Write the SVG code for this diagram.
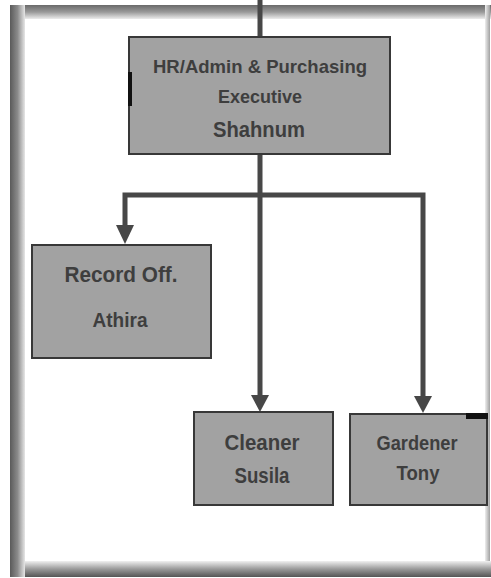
<svg xmlns="http://www.w3.org/2000/svg" width="491" height="578" viewBox="0 0 491 578">
  <defs>
    <style>
      .box { fill: #a2a2a2; stroke: #383838; stroke-width: 2; }
      .lbl { font-family: "Liberation Sans", Arial, sans-serif; font-weight: bold; fill: #3e3e3e; text-anchor: middle; }
      .conn { fill: none; stroke: #474747; stroke-width: 5; }
      .head { fill: #474747; }
    </style>
    <linearGradient id="gL" x1="0" y1="0" x2="1" y2="0">
      <stop offset="0" stop-color="#5a5a5a"/>
      <stop offset="0.5" stop-color="#8a8a8a"/>
      <stop offset="1" stop-color="#e6e6e6"/>
    </linearGradient>
    <linearGradient id="gT" x1="0" y1="0" x2="0" y2="1">
      <stop offset="0" stop-color="#6a6a6a"/>
      <stop offset="0.5" stop-color="#999"/>
      <stop offset="1" stop-color="#ececec"/>
    </linearGradient>
    <linearGradient id="gB" x1="0" y1="0" x2="0" y2="1">
      <stop offset="0" stop-color="#f0f0f0"/>
      <stop offset="0.5" stop-color="#9a9a9a"/>
      <stop offset="1" stop-color="#555"/>
    </linearGradient>
    <linearGradient id="gR" x1="0" y1="0" x2="1" y2="0">
      <stop offset="0" stop-color="#eeeeee"/>
      <stop offset="1" stop-color="#a0a0a0"/>
    </linearGradient>
  </defs>

  <rect width="491" height="578" fill="#ffffff"/>

  <g id="frame">
    <rect x="10" y="5" width="481" height="14" fill="url(#gT)"/>
    <rect x="485" y="5" width="5" height="572" fill="url(#gR)"/>
    <rect x="10" y="561" width="481" height="16" fill="url(#gB)"/>
    <rect x="10" y="5" width="15" height="572" fill="url(#gL)"/>
  </g>

  <g id="connectors">
    <path class="conn" d="M260,0 V37"/>
    <path class="conn" d="M260,155 V396"/>
    <path class="conn" d="M125,228 V195 H423 V398"/>
    <polygon class="head" points="116,225 134,225 125,244"/>
    <polygon class="head" points="251,395 269,395 260,412"/>
    <polygon class="head" points="414,396 432,396 423,413"/>
  </g>

  <g id="hr-exec">
    <rect class="box" x="129" y="37" width="261" height="117"/>
    <text class="lbl" x="260" y="73" font-size="19" textLength="214" lengthAdjust="spacingAndGlyphs">HR/Admin &amp; Purchasing</text>
    <text class="lbl" x="260" y="103" font-size="19" textLength="84" lengthAdjust="spacingAndGlyphs">Executive</text>
    <text class="lbl" x="259" y="137" font-size="22" textLength="92" lengthAdjust="spacingAndGlyphs">Shahnum</text>
    <rect x="128" y="72" width="4" height="34" fill="#111"/>
  </g>

  <g id="record-off">
    <rect class="box" x="32" y="245" width="179" height="113"/>
    <text class="lbl" x="121" y="282" font-size="22" textLength="113" lengthAdjust="spacingAndGlyphs">Record Off.</text>
    <text class="lbl" x="120" y="327" font-size="21" textLength="55" lengthAdjust="spacingAndGlyphs">Athira</text>
  </g>

  <g id="cleaner">
    <rect class="box" x="194" y="412" width="139" height="93"/>
    <text class="lbl" x="262" y="450" font-size="22" textLength="75" lengthAdjust="spacingAndGlyphs">Cleaner</text>
    <text class="lbl" x="262" y="483" font-size="22" textLength="55" lengthAdjust="spacingAndGlyphs">Susila</text>
  </g>

  <g id="gardener">
    <rect class="box" x="350" y="414" width="137" height="91"/>
    <text class="lbl" x="417" y="450" font-size="21" textLength="81" lengthAdjust="spacingAndGlyphs">Gardener</text>
    <text class="lbl" x="418" y="480" font-size="21" textLength="43" lengthAdjust="spacingAndGlyphs">Tony</text>
    <rect x="466" y="413" width="22" height="6" fill="#111"/>
  </g>
</svg>
